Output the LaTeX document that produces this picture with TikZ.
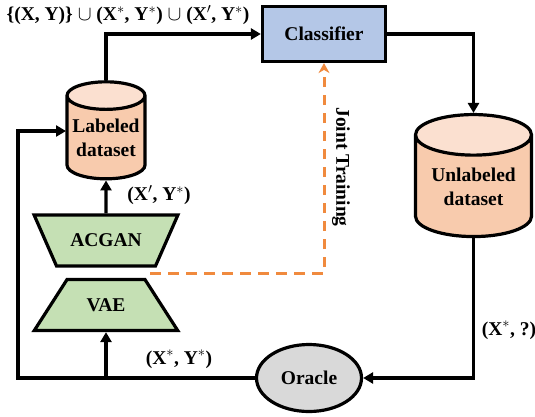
\documentclass[tikz,border=0pt]{standalone}
\usepackage{fontspec}
\setmainfont{Liberation Serif}
\usetikzlibrary{arrows.meta,shapes.geometric}
\begin{document}
\begin{tikzpicture}
[x=1pt,y=-1pt,
  textdecorate/.style={font=\fontsize{19.5}{24}\selectfont\bfseries,align=center,inner sep=0pt},%
  cylinderdecorate/.style={shape=cylinder,shape border rotate=90,draw,line width=3.2pt,
    cylinder uses custom fill,cylinder body fill=bodyorange,cylinder end fill=capGold,
    inner sep=0pt,textdecorate},%
  trapdecorate/.style={shape=trapezium,trapezium stretches=true,draw,line width=3.2pt,
    fill=trapgreen,trapezium left angle=39,trapezium right angle=39,
    minimum width=144pt,minimum height=51pt,inner sep=0pt,textdecorate},%
  linedecorate/.style={line width=3.2pt,-{Triangle[length=10pt,width=11pt]}},%
  dashdecorate/.style={line width=3pt,draw=jointorange,dash pattern=on 10.5pt off 7.5pt,
    -{Stealth[length=10pt,width=11pt]}}]
\definecolor{bodyorange}{HTML}{F8CBAD}
\definecolor{capGold}{HTML}{FBE0D0}
\definecolor{trapgreen}{HTML}{C5E0B4}
\definecolor{boxblue}{HTML}{B4C7E7}
\definecolor{jointorange}{HTML}{F08A3E}
\useasboundingbox (0,0) rectangle (535,416);
%% nodes or vertices
\node (classifier) at (324,34) [draw,line width=3.2pt,fill=boxblue,minimum width=123pt,
  minimum height=55pt,inner sep=0pt,textdecorate] {Classifier};
\node (labeled) at (106,138) [cylinderdecorate,minimum width=78pt,minimum height=97pt,aspect=0.41] {Labeled\\dataset};
\node (unlabeled) at (473.5,186.5) [cylinderdecorate,minimum width=116pt,minimum height=122pt,aspect=0.48] {Unlabeled\\dataset};
\node (acgan) at (106,240.5) [trapdecorate,shape border rotate=180] {ACGAN};
\node (vae) at (106,305) [trapdecorate] {VAE};
\node (oracle) at (309,378) [shape=ellipse,draw,line width=3.2pt,fill=black!15,minimum width=105pt,
  minimum height=67pt,inner sep=0pt,textdecorate] {Oracle};
\coordinate (jointstart) at (150,273);
\coordinate (leftcorner) at (18,378);
\coordinate (labeledin) at (66,131);
%% edge labels
\foreach \nodename/\x/\y/\labeltext in {
  toplabel/128/15/{\{(X, Y)\} $\cup$ (X$^{*}$, Y$^{*}$) $\cup$ (X$'$, Y$^{*}$)},
  genlabel/159/195/{(X$'$, Y$^{*}$)},
  oraclelabel/179/359/{(X$^{*}$, Y$^{*}$)},
  querylabel/509/330/{(X$^{*}$, ?)}} {
  \node (\nodename) at (\x,\y) [textdecorate] {\labeltext};
}
\node (jointlabel) at (341,167) [textdecorate,rotate=-90] {Joint Training};
%% edges or lines
\draw[linedecorate] (labeled.top) |- (classifier.west);
\draw[linedecorate] (classifier.east) -| (unlabeled.top);
\draw[linedecorate] (unlabeled.bottom) |- (oracle.east);
\draw[linedecorate] (oracle.west) -- (leftcorner) |- (labeledin);
\draw[linedecorate] (vae.south |- oracle.west) -- (vae.south);
\draw[linedecorate] (acgan.north) -- (labeled.bottom);
\draw[dashdecorate] (jointstart) -| (classifier.south);
\end{tikzpicture}
\end{document}
